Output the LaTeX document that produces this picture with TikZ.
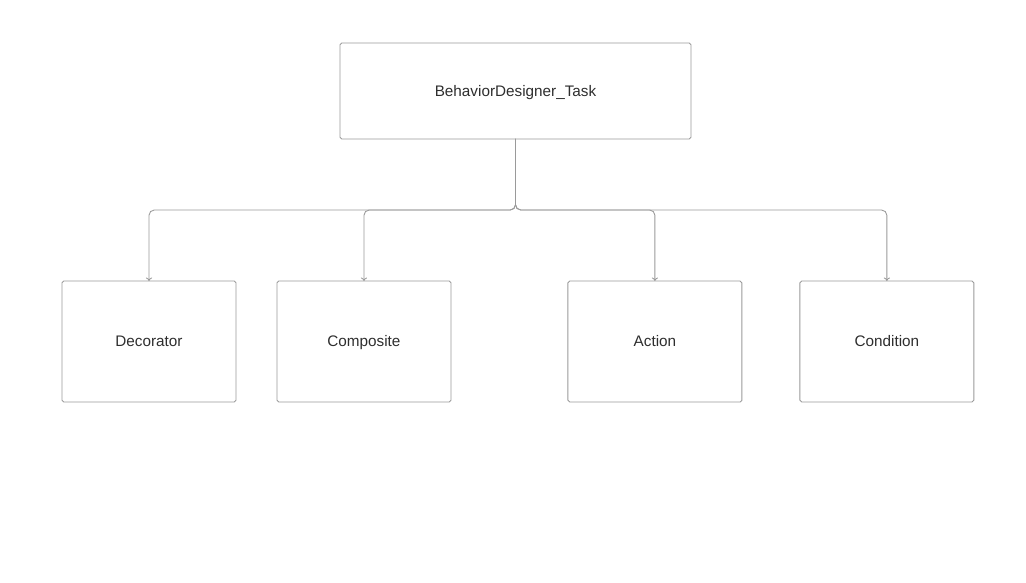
\documentclass[tikz,border=0pt]{standalone}
\usepackage{fontspec}
\setmainfont{Liberation Sans}
\usepackage{xcolor}
\usepackage{tikz}
\usetikzlibrary{arrows.meta,positioning}
\definecolor{edgegray}{HTML}{9A9A9A}
\definecolor{textgray}{HTML}{2E2E2E}

\begin{document}
\begin{tikzpicture}[
  x=0.02cm, y=0.02cm,
  box/.style={draw=edgegray, line width=0.5pt, rounded corners=1pt, minimum width=3.48cm,
              minimum height=2.42cm, inner sep=0pt, outer sep=0pt, align=center,
              text height=1.4ex, text depth=0.3ex,
              font=\fontsize{8.7pt}{10.5pt}\selectfont, text=textgray},
  topbox/.style={box, minimum width=7.02cm, minimum height=1.92cm},
  arr/.style={-{To[length=2pt,width=3.5pt]}, edgegray, line width=0.5pt, rounded corners=3pt}
]
  \useasboundingbox (0,0) rectangle (1026,-582);
  \node[topbox] (task) at (515.5,-91) {BehaviorDesigner\_Task};
  \node[box] (decorator) at (149,-341.5) {Decorator};
  \node[box, right=0.82cm of decorator] (composite) {Composite};
  \node[box, right=2.34cm of composite] (action) {Action};
  \node[box, right=1.16cm of action] (condition) {Condition};
  \coordinate (bus) at (515.5,-210);
  \draw[arr] (task.south) -- (bus) -| (decorator.north);
  \draw[arr] (task.south) -- (bus) -| (composite.north);
  \draw[arr] (task.south) -- (bus) -| (action.north);
  \draw[arr] (task.south) -- (bus) -| (condition.north);
\end{tikzpicture}
\end{document}
